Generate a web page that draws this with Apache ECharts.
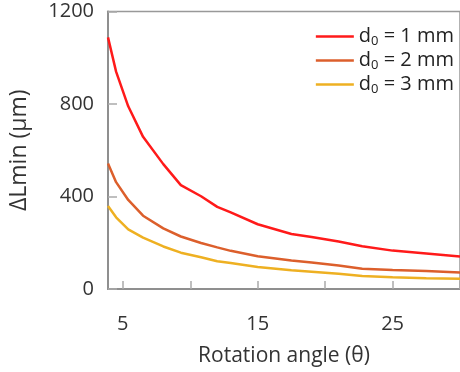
<!DOCTYPE html>
<html>
<head>
<meta charset="utf-8">
<script src="https://cdn.jsdelivr.net/npm/echarts@6/dist/echarts.min.js"></script>
<style>
  html, body { margin: 0; padding: 0; background: #fff; }
  #main { width: 460px; height: 372px; }
</style>
</head>
<body>
<div id="main"></div>
<script>
// 旋转角度 (θ)
const angles = [3.9, 4.5, 5.4, 6.5, 8, 9.3, 10.8, 12, 13, 15, 17.5, 19, 21, 22.75, 25, 27.5, 30];
// ΔLmin (µm)
const d1Values = [1088, 940, 790, 658, 540, 449, 401, 355, 331, 280, 238, 225, 205, 185, 166, 153, 140];
const d2Values = [543, 462, 385, 317, 262, 227, 199, 180, 165, 142, 123, 115, 102, 88, 82, 78, 71];
const d3Values = [359, 310, 258, 222, 184, 157, 137, 120, 112, 95, 81, 75, 66, 56, 51, 47, 44];
const seriesNames = ['d0 = 1 mm', 'd0 = 2 mm', 'd0 = 3 mm'];
const xTickValues = [5, 10, 15, 20, 25, 30];
const xLabelValues = [5, 15, 25];
const yTickValues = [0, 400, 800, 1200];

const colors = ['#ff1a1a', '#dc5f2c', '#eeb022'];
const fontFamily = '"Open Sans", sans-serif';

function pairs(values) {
  return values.map((v, i) => [angles[i], v]);
}

const myChart = echarts.init(document.getElementById('main'));
myChart.setOption({
  animation: false,
  color: colors,
  grid: {
    left: 106,
    right: -2,
    top: 11.5,
    bottom: 72.5,
    show: true,
    borderColor: '#999',
    borderWidth: 1.5,
  },
  legend: {
    orient: 'vertical',
    right: 1,
    top: 20,
    icon: 'rect',
    itemWidth: 38,
    itemHeight: 2.5,
    itemGap: 1,
    data: seriesNames,
    formatter: (name) => {
      const num = name.split('= ')[1];
      return `{a|d}{sub|0}{a| = ${num}}`;
    },
    textStyle: {
      rich: {
        a: { fontSize: 20, fontFamily, color: '#222', lineHeight: 20 },
        sub: { fontSize: 13, fontFamily, color: '#222', lineHeight: 20, padding: [10, 0, 0, 0] },
      },
    },
  },
  xAxis: {
    type: 'value',
    min: 3.9,
    max: 30,
    name: 'Rotation angle (θ)',
    nameLocation: 'middle',
    nameGap: 57,
    nameTextStyle: { fontSize: 21, fontFamily, color: '#333' },
    axisLine: { lineStyle: { color: '#8f8f8f', width: 2 } },
    axisTick: {
      inside: true,
      length: 8,
      customValues: xTickValues,
      lineStyle: { color: '#aaa', width: 1.5 },
    },
    axisLabel: {
      customValues: xLabelValues,
      margin: 25,
      fontSize: 20,
      fontFamily,
      color: '#333',
    },
    splitLine: { show: false },
  },
  yAxis: {
    type: 'value',
    min: 0,
    max: 1200,
    name: 'ΔLmin (µm)',
    nameLocation: 'middle',
    nameGap: 77,
    nameTextStyle: { fontSize: 23, fontFamily, color: '#333' },
    axisLine: { show: true, lineStyle: { color: '#8f8f8f', width: 2 } },
    axisTick: {
      show: true,
      inside: true,
      length: 9,
      customValues: yTickValues,
      lineStyle: { color: '#aaa', width: 1.5 },
    },
    axisLabel: {
      customValues: yTickValues,
      formatter: (v) => String(v),
      margin: 14,
      padding: [6, 0, 0, 0],
      fontSize: 20,
      fontFamily,
      color: '#333',
    },
    splitLine: { show: false },
  },
  series: [
    { name: seriesNames[0], type: 'line', symbol: 'none', data: pairs(d1Values), lineStyle: { width: 2.5 } },
    { name: seriesNames[1], type: 'line', symbol: 'none', data: pairs(d2Values), lineStyle: { width: 2.5 } },
    { name: seriesNames[2], type: 'line', symbol: 'none', data: pairs(d3Values), lineStyle: { width: 2.5 } },
  ],
});
</script>
</body>
</html>
